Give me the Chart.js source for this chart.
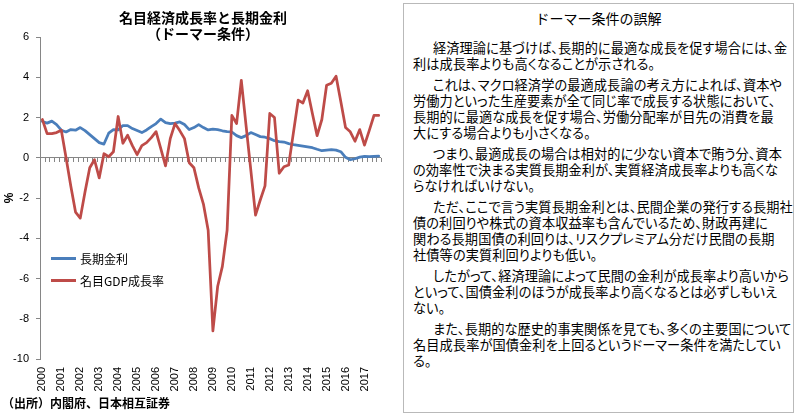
<!DOCTYPE html>
<html>
<head>
<meta charset="utf-8">
<script src="https://cdn.jsdelivr.net/npm/chart.js@4.4.0/dist/chart.umd.min.js"></script>
<style>
	body { margin: 0; background: #fff; }
	#wrap { position: relative; width: 798px; height: 415px; overflow: hidden; background: #fff; font-family: "Noto Sans CJK JP", sans-serif; color: #000; }
	#chartTitle { position: absolute; left: 0; top: 9px; width: 406px; text-align: center; font-weight: bold; font-size: 14px; line-height: 16px; }
	#chartBox { position: absolute; left: 0; top: 0; width: 400px; height: 395px; }
	#legend { position: absolute; left: 51px; top: 247px; font-size: 12px; }
	#legend .row { height: 22px; display: flex; align-items: center; }
	#legend .swatch { width: 25px; height: 3px; margin-right: 4px; }
	#source { position: absolute; left: 2px; top: 394px; font-size: 12px; font-weight: bold; line-height: 18px; }
	#note { position: absolute; left: 403px; top: 3px; width: 391px; height: 410px; box-sizing: border-box; border: 1.5px solid #b9b9b9; background: #fff; }
	#noteTitle { position: absolute; left: 0; right: 0; top: 5px; text-align: center; font-size: 14px; line-height: 18px; }
	#noteBody { position: absolute; left: 9px; top: 36px; font-size: 13.2px; line-height: 16px; letter-spacing: 0.1px; font-feature-settings: "palt"; white-space: nowrap; }
	#noteBody .para { margin: 0 0 5px 0; }
	#noteBody .para div:first-child { text-indent: 20px; }
</style>
</head>
<body>
<div id="wrap">
	<div id="chartBox"><canvas id="chart" width="400" height="395"></canvas></div>
	<div id="chartTitle">名目経済成長率と長期金利<br>（ドーマー条件）</div>
	<div id="legend">
		<div class="row"><span class="swatch" style="background:#4A7EBB"></span>長期金利</div>
		<div class="row"><span class="swatch" style="background:#BE4B48"></span>名目GDP成長率</div>
	</div>
	<div id="source">（出所）内閣府、日本相互証券</div>

	<div id="note">
		<div id="noteTitle">ドーマー条件の誤解</div>
		<div id="noteBody">
			<div class="para"><div>経済理論に基づけば、長期的に最適な成長を促す場合には、金</div><div>利は成長率よりも高くなることが示される。</div></div>
			<div class="para"><div>これは、マクロ経済学の最適成長論の考え方によれば、資本や</div><div>労働力といった生産要素が全て同じ率で成長する状態において、</div><div>長期的に最適な成長を促す場合、労働分配率が目先の消費を最</div><div>大にする場合よりも小さくなる。</div></div>
			<div class="para"><div>つまり、最適成長の場合は相対的に少ない資本で賄う分、資本</div><div>の効率性で決まる実質長期金利が、実質経済成長率よりも高くな</div><div>らなければいけない。</div></div>
			<div class="para"><div>ただ、ここで言う実質長期金利とは、民間企業の発行する長期社</div><div>債の利回りや株式の資本収益率も含んでいるため、財政再建に</div><div>関わる長期国債の利回りは、リスクプレミアム分だけ民間の長期</div><div>社債等の実質利回りよりも低い。</div></div>
			<div class="para"><div>したがって、経済理論によって民間の金利が成長率より高いから</div><div>といって、国債金利のほうが成長率より高くなるとは必ずしもいえ</div><div>ない。</div></div>
			<div class="para"><div>また、長期的な歴史的事実関係を見ても、多くの主要国について</div><div>名目成長率が国債金利を上回るというドーマー条件を満たしてい</div><div>る。</div></div>
		</div>
	</div>
</div>

<script>
	var years = ['2000', '2001', '2002', '2003', '2004', '2005', '2006', '2007', '2008',
		'2009', '2010', '2011', '2012', '2013', '2014', '2015', '2016', '2017'];

	//quarterly categories, one label per year is shown
	var quarters = [];
	years.forEach(function(y) {
		for (var q = 1; q <= 4; q++) {
			quarters.push(y + 'Q' + q);
		}
	});

	//長期金利 (%)
	var longTermRate = [
		1.8, 1.72, 1.82, 1.65, 1.37, 1.28, 1.4, 1.37,
		1.5, 1.35, 1.15, 0.95, 0.75, 0.68, 1.22, 1.4,
		1.38, 1.6, 1.6, 1.45, 1.35, 1.25, 1.38, 1.55,
		1.7, 1.92, 1.75, 1.7, 1.72, 1.78, 1.65, 1.4,
		1.5, 1.65, 1.5, 1.38, 1.42, 1.4, 1.34, 1.3,
		1.28, 1.1, 1.0, 1.1, 1.25, 1.15, 1.05, 1.02,
		0.95, 0.85, 0.8, 0.78, 0.7, 0.65, 0.62, 0.58,
		0.54, 0.5, 0.42, 0.35, 0.38, 0.4, 0.38, 0.3,
		0.02, -0.1, -0.05, 0.03, 0.07, 0.05, 0.07, 0.08
	];

	//名目GDP成長率 (%)
	var nominalGdpGrowth = [
		1.9, 1.2, 1.2, 1.25, 1.37, 0.0, -1.4, -2.7,
		-3.0, -1.7, -0.5, -0.1, -1.0, 0.2, 0.05, 0.3,
		2.05, 0.72, 1.12, 0.6, 0.15, 0.6, 0.75, 1.0,
		1.3, 0.45, -0.4, 0.95, 1.7, 1.35, 0.95, -0.25,
		-0.5, -1.5, -2.3, -3.6, -8.6, -6.4, -5.4, -3.6,
		2.1, 1.7, 3.85, 1.6, -0.6, -2.85, -2.1, -1.4,
		2.2, 2.0, -0.77, -0.45, -0.36, 1.25, 2.86, 2.72,
		3.33, 2.2, 1.1, 1.9, 3.6, 3.7, 4.05, 2.8,
		1.5, 1.29, 0.82, 1.4, 0.63, 1.35, 2.1, 2.1
	];

	var axisGray = '#868686';
	var tickFont = { family: 'Liberation Sans', size: 11 };

	//small tick marks on the zero line, one per quarter boundary
	var zeroLineTicks = {
		id: 'zeroLineTicks',
		beforeDatasetsDraw: function(chart) {
			var xs = chart.scales.x;
			var y0 = Math.round(chart.scales.y.getPixelForValue(0));
			var c = chart.ctx;
			c.save();
			c.strokeStyle = axisGray;
			c.lineWidth = 1;
			c.beginPath();
			for (var i = 0; i <= quarters.length; i++) {
				var px = Math.round(xs.getPixelForValue(i - 0.5)) + 0.5;
				c.moveTo(px, y0);
				c.lineTo(px, y0 + 4);
			}
			c.stroke();
			c.restore();
		}
	};

	var ctx = document.getElementById('chart').getContext('2d');
	var myChart = new Chart(ctx, {
		type: 'line',
		data: {
			labels: quarters,
			datasets: [
				{
					label: '長期金利',
					data: longTermRate,
					borderColor: '#4A7EBB',
					borderWidth: 2.75,
					pointRadius: 0,
					tension: 0,
					borderJoinStyle: 'round',
					borderCapStyle: 'round',
					order: 1
				},
				{
					label: '名目GDP成長率',
					data: nominalGdpGrowth,
					borderColor: '#BE4B48',
					borderWidth: 2.75,
					pointRadius: 0,
					tension: 0,
					borderJoinStyle: 'round',
					borderCapStyle: 'round',
					order: 0
				}
			]
		},
		options: {
			responsive: false,
			animation: false,
			layout: { padding: { top: 37, right: 15, left: 0, bottom: 0 } },
			plugins: {
				legend: { display: false },
				tooltip: { enabled: false }
			},
			scales: {
				x: {
					offset: true,
					grid: { display: false, drawTicks: false },
					border: { display: false },
					ticks: {
						autoSkip: false,
						minRotation: 90,
						maxRotation: 90,
						padding: 8,
						color: '#000',
						font: tickFont,
						callback: function(value, index) {
							return index % 4 === 0 ? years[index / 4] : '';
						}
					},
					afterFit: function(scale) { scale.height = 36; }
				},
				y: {
					min: -10,
					max: 6,
					ticks: { stepSize: 2, padding: 7, color: '#000', font: tickFont },
					grid: {
						color: function(c) {
							return (c.tick && c.tick.value === 0) ? axisGray : 'rgba(0,0,0,0)';
						},
						tickColor: axisGray,
						tickLength: 4
					},
					border: { color: axisGray },
					title: {
						display: true,
						text: '%',
						color: '#000',
						font: { family: 'Liberation Sans', size: 12, weight: 'bold' },
						padding: { top: 2, bottom: 0 }
					},
					afterFit: function(scale) { scale.width = 40; }
				}
			}
		},
		plugins: [zeroLineTicks]
	});
</script>
</body>
</html>
